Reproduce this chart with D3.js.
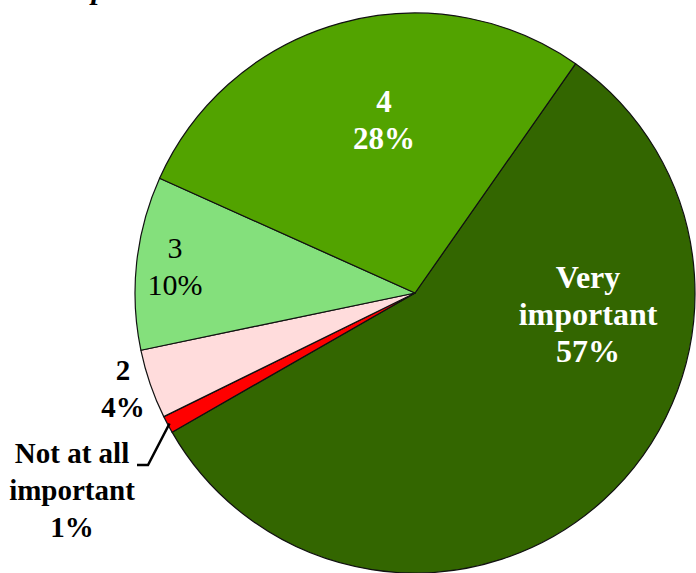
<!DOCTYPE html>
<html>
<head>
<meta charset="utf-8">
<script src="https://cdn.jsdelivr.net/npm/d3@7"></script>
</head>
<body style="margin:0">
<script>
// categories in drawing order (clockwise, starting at the top right)
const categories = ['Very important', 'Not at all important', '2', '3', '4'];
const shares = [57, 1, 4, 10, 28];
const sliceColors = ['#336600', '#ff0000', '#ffdcdc', '#84e07c', '#52a300'];
// label lines for each slice
const labelLines = [
  ['Very', 'important', '57%'],
  ['Not at all', 'important', '1%'],
  ['2', '4%'],
  ['3', '10%'],
  ['4', '28%'],
];

const width = 696;
const height = 573;
const cx = 415;
const cy = 293;
const radius = 280;

const svg = d3.select('body').append('svg')
  .attr('width', width)
  .attr('height', height)
  .style('display', 'block');

// #region pie
const startDeg = 35;
const pie = d3.pie()
  .sort(null)
  .value(d => d.value)
  .startAngle(startDeg * Math.PI / 180)
  .endAngle((startDeg + 360) * Math.PI / 180);

const data = categories.map((c, i) => ({ name: c, value: shares[i], color: sliceColors[i], lines: labelLines[i] }));
const arcs = pie(data);

const arc = d3.arc().innerRadius(0).outerRadius(radius);

svg.append('g')
  .attr('transform', `translate(${cx},${cy})`)
  .selectAll('path')
  .data(arcs)
  .enter()
  .append('path')
  .attr('d', arc)
  .attr('fill', d => d.data.color)
  .attr('stroke', '#111')
  .attr('stroke-width', 1.2)
  .attr('stroke-linejoin', 'round');
// #endregion

// #region labels
const labelStyle = {
  'Very important': { x: 588, y: 288, fill: '#ffffff', weight: 'bold', size: 32 },
  'Not at all important': { x: 72, y: 463, fill: '#000000', weight: 'bold', size: 29 },
  '2': { x: 123, y: 380, fill: '#000000', weight: 'bold', size: 29 },
  '3': { x: 175, y: 258, fill: '#000000', weight: 'normal', size: 30 },
  '4': { x: 384, y: 112, fill: '#ffffff', weight: 'bold', size: 31 },
};
const lineGap = 37;

const lines = [];
arcs.forEach(a => {
  const s = labelStyle[a.data.name];
  a.data.lines.forEach((ln, i) => lines.push({ text: ln, x: s.x, y: s.y + i * lineGap, fill: s.fill, weight: s.weight, size: s.size }));
});

svg.selectAll('text.lbl')
  .data(lines)
  .enter()
  .append('text')
  .attr('class', 'lbl')
  .attr('x', d => d.x)
  .attr('y', d => d.y)
  .attr('text-anchor', 'middle')
  .attr('fill', d => d.fill)
  .style('font-family', '"Liberation Serif"')
  .style('font-size', d => d.size + 'px')
  .style('font-weight', d => d.weight)
  .text(d => d.text);

// cut-off title remnant at the top edge
svg.append('text')
  .attr('x', 99)
  .attr('y', -1)
  .attr('text-anchor', 'middle')
  .style('font-family', '"Liberation Serif"')
  .style('font-style', 'italic')
  .style('font-weight', 'bold')
  .style('font-size', '30px')
  .text('p');

// leader line for the 1% slice
const tiny = arcs[1];
const mid = (tiny.startAngle + tiny.endAngle) / 2;
const edge = [cx + Math.sin(mid) * (radius - 2), cy - Math.cos(mid) * (radius - 2)];
svg.append('polyline')
  .attr('points', [[137, 465], [148, 465], edge].map(p => p.join(',')).join(' '))
  .attr('fill', 'none')
  .attr('stroke', '#000')
  .attr('stroke-width', 2.5);
// #endregion
</script>
</body>
</html>
